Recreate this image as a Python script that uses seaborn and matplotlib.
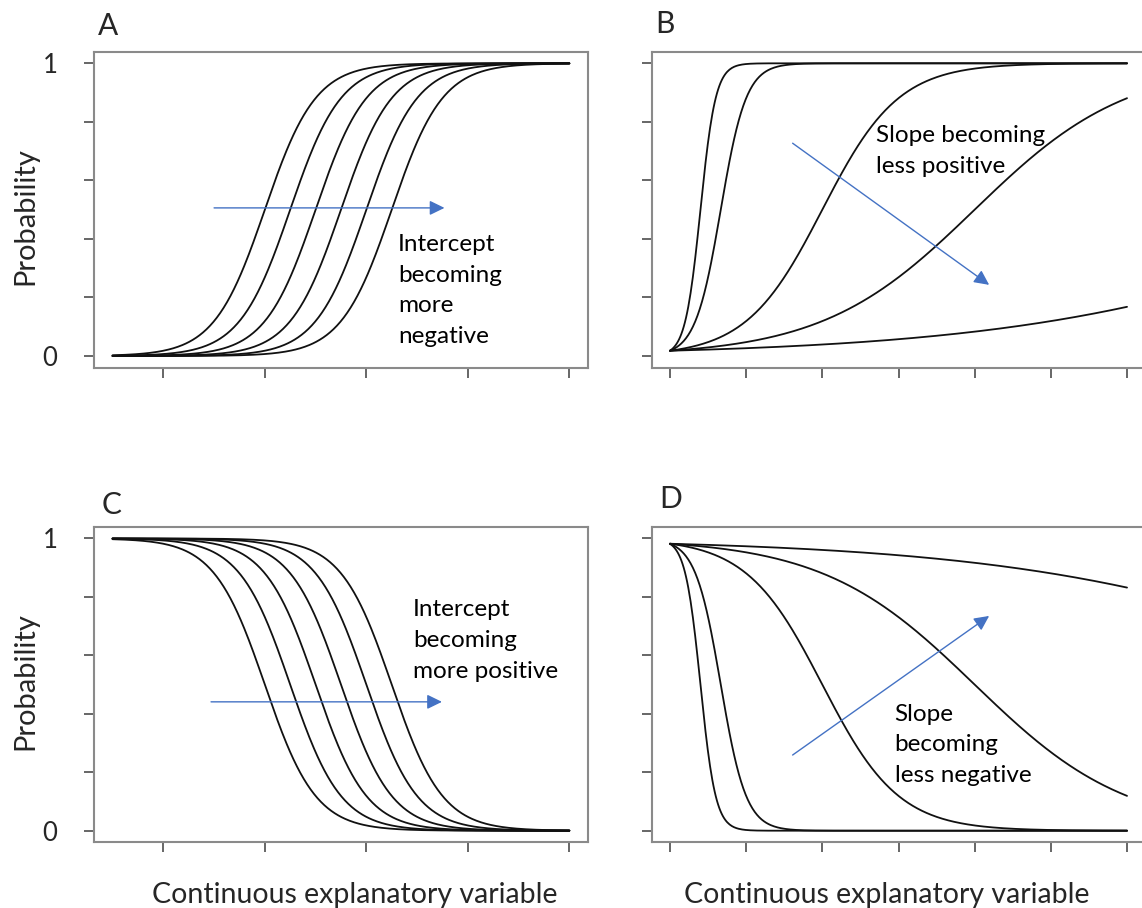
import numpy as np
import pandas as pd
import matplotlib
matplotlib.use("Agg")
import matplotlib.pyplot as plt
import seaborn as sns

# ---------------- data ----------------
# Panel A: logistic curves, common slope, intercept becoming more negative
a_intercepts = [-8, -9, -10, -11, -12, -13]
a_slope = 2.0
# Panel B: common intercept, slope becoming less positive
b_intercept = -4.0
b_slopes = [10.0, 6.0, 2.0, 1.0, 0.4]
# Panel C: common slope (negative), intercept becoming more positive
c_intercepts = [8, 9, 10, 11, 12, 13]
c_slope = -2.0
# Panel D: common intercept, slope becoming less negative
d_intercept = 4.0
d_slopes = [-10.0, -6.0, -2.0, -1.0, -0.4]

ac_x_range = (1, 10)
bd_x_range = (0, 6)
ac_xticks = [2, 4, 6, 8, 10]
bd_xticks = [0, 1, 2, 3, 4, 5, 6]
yticks = [0, 0.2, 0.4, 0.6, 0.8, 1.0]
ytick_labels_left = ["0", "", "", "", "", "1"]
ytick_labels_right = [""] * 6
panel_letters = ["A", "B", "C", "D"]
annotations = [
    "Intercept\nbecoming\nmore\nnegative",
    "Slope becoming\nless positive",
    "Intercept\nbecoming\nmore positive",
    "Slope\nbecoming\nless negative",
]
xlabel_text = "Continuous explanatory variable"
ylabel_text = "Probability"


def logistic_frame(intercepts, slopes, xr, n=400):
    rows = []
    xs = np.linspace(xr[0], xr[1], n)
    for i, (b0, b1) in enumerate(zip(intercepts, slopes)):
        p = 1.0 / (1.0 + np.exp(-(b0 + b1 * xs)))
        rows.append(pd.DataFrame({"x": xs, "p": p, "curve": i}))
    return pd.concat(rows, ignore_index=True)


df_a = logistic_frame(a_intercepts, [a_slope] * len(a_intercepts), ac_x_range)
df_b = logistic_frame([b_intercept] * len(b_slopes), b_slopes, bd_x_range)
df_c = logistic_frame(c_intercepts, [c_slope] * len(c_intercepts), ac_x_range)
df_d = logistic_frame([d_intercept] * len(d_slopes), d_slopes, bd_x_range)

# ---------------- figure ----------------
sns.set_style("white")
plt.rcParams["font.family"] = ["Lato", "DejaVu Sans"]

W, H = 1142, 908
fig = plt.figure(figsize=(W / 100, H / 100), dpi=100)


def px_axes(left, top, right, bottom):
    return fig.add_axes([left / W, 1 - bottom / H, (right - left) / W, (bottom - top) / H])


ax_a = px_axes(94.3, 51.6, 587.6, 367.7)
ax_b = px_axes(651.7, 51.6, 1145.3, 367.7)
ax_c = px_axes(94.3, 526.8, 587.6, 842.4)
ax_d = px_axes(651.7, 526.8, 1145.3, 842.4)

panels = [
    (ax_a, df_a, ac_x_range, ac_xticks, ytick_labels_left),
    (ax_b, df_b, bd_x_range, bd_xticks, ytick_labels_right),
    (ax_c, df_c, ac_x_range, ac_xticks, ytick_labels_left),
    (ax_d, df_d, bd_x_range, bd_xticks, ytick_labels_right),
]

for ax, df, xr, xt, ylabs in panels:
    sns.lineplot(data=df, x="x", y="p", units="curve", estimator=None,
                 color="#111111", linewidth=1.3, ax=ax, legend=False)
    span = xr[1] - xr[0]
    ax.set_xlim(xr[0] - 0.04 * span, xr[1] + 0.04 * span)
    ax.set_ylim(-0.04, 1.04)
    ax.set_xticks(xt)
    ax.set_xticklabels([""] * len(xt))
    ax.set_yticks(yticks)
    ax.set_yticklabels(ylabs, fontsize=18.5)
    ax.set_xlabel("")
    ax.set_ylabel("")
    for s in ax.spines.values():
        s.set_visible(True)
        s.set_color("#8a8a8a")
        s.set_linewidth(1.5)
    ax.tick_params(axis="both", direction="out", length=7.5, width=1.3,
                   color="#5a5a5a", bottom=True, left=True)
    ax.tick_params(axis="y", pad=19)

# arrows (annotation, data coordinates)
arrow_kw = dict(arrowstyle="-|>,head_length=0.45,head_width=0.22",
                color="#4472C4", lw=1.0, shrinkA=0, shrinkB=0, mutation_scale=20)
ax_a.annotate("", xy=(7.54, 0.506), xytext=(3.0, 0.506), arrowprops=arrow_kw)
ax_b.annotate("", xy=(4.19, 0.243), xytext=(1.61, 0.727), arrowprops=arrow_kw)
ax_c.annotate("", xy=(7.49, 0.441), xytext=(2.94, 0.441), arrowprops=arrow_kw)
ax_d.annotate("", xy=(4.19, 0.735), xytext=(1.61, 0.259), arrowprops=arrow_kw)

# annotation texts (anchored at the baseline of the last line)
txt_kw = dict(fontsize=17.5, ha="left", va="baseline", linespacing=1.57, color="#000000")
ax_a.text(6.62, 0.044, annotations[0], **txt_kw)
ax_b.text(2.70, 0.625, annotations[1], **txt_kw)
ax_c.text(6.92, 0.523, annotations[2], **txt_kw)
ax_d.text(2.95, 0.167, annotations[3], **txt_kw)

# panel letters
for (lx, by), letter in zip([(98, 35), (655, 33), (102, 514), (659, 508)], panel_letters):
    fig.text(lx / W, 1 - by / H, letter, fontsize=21.5, ha="left", va="baseline")

# axis labels
for cy in (215.8, 681.5):
    fig.text(25.5 / W, 1 - cy / H, ylabel_text, rotation=90, fontsize=21,
             ha="center", va="center")
for cx in (355, 887):
    fig.text(cx / W, 1 - 903 / H, xlabel_text, fontsize=20.5,
             ha="center", va="baseline")

fig.savefig("out.png", dpi=100)
